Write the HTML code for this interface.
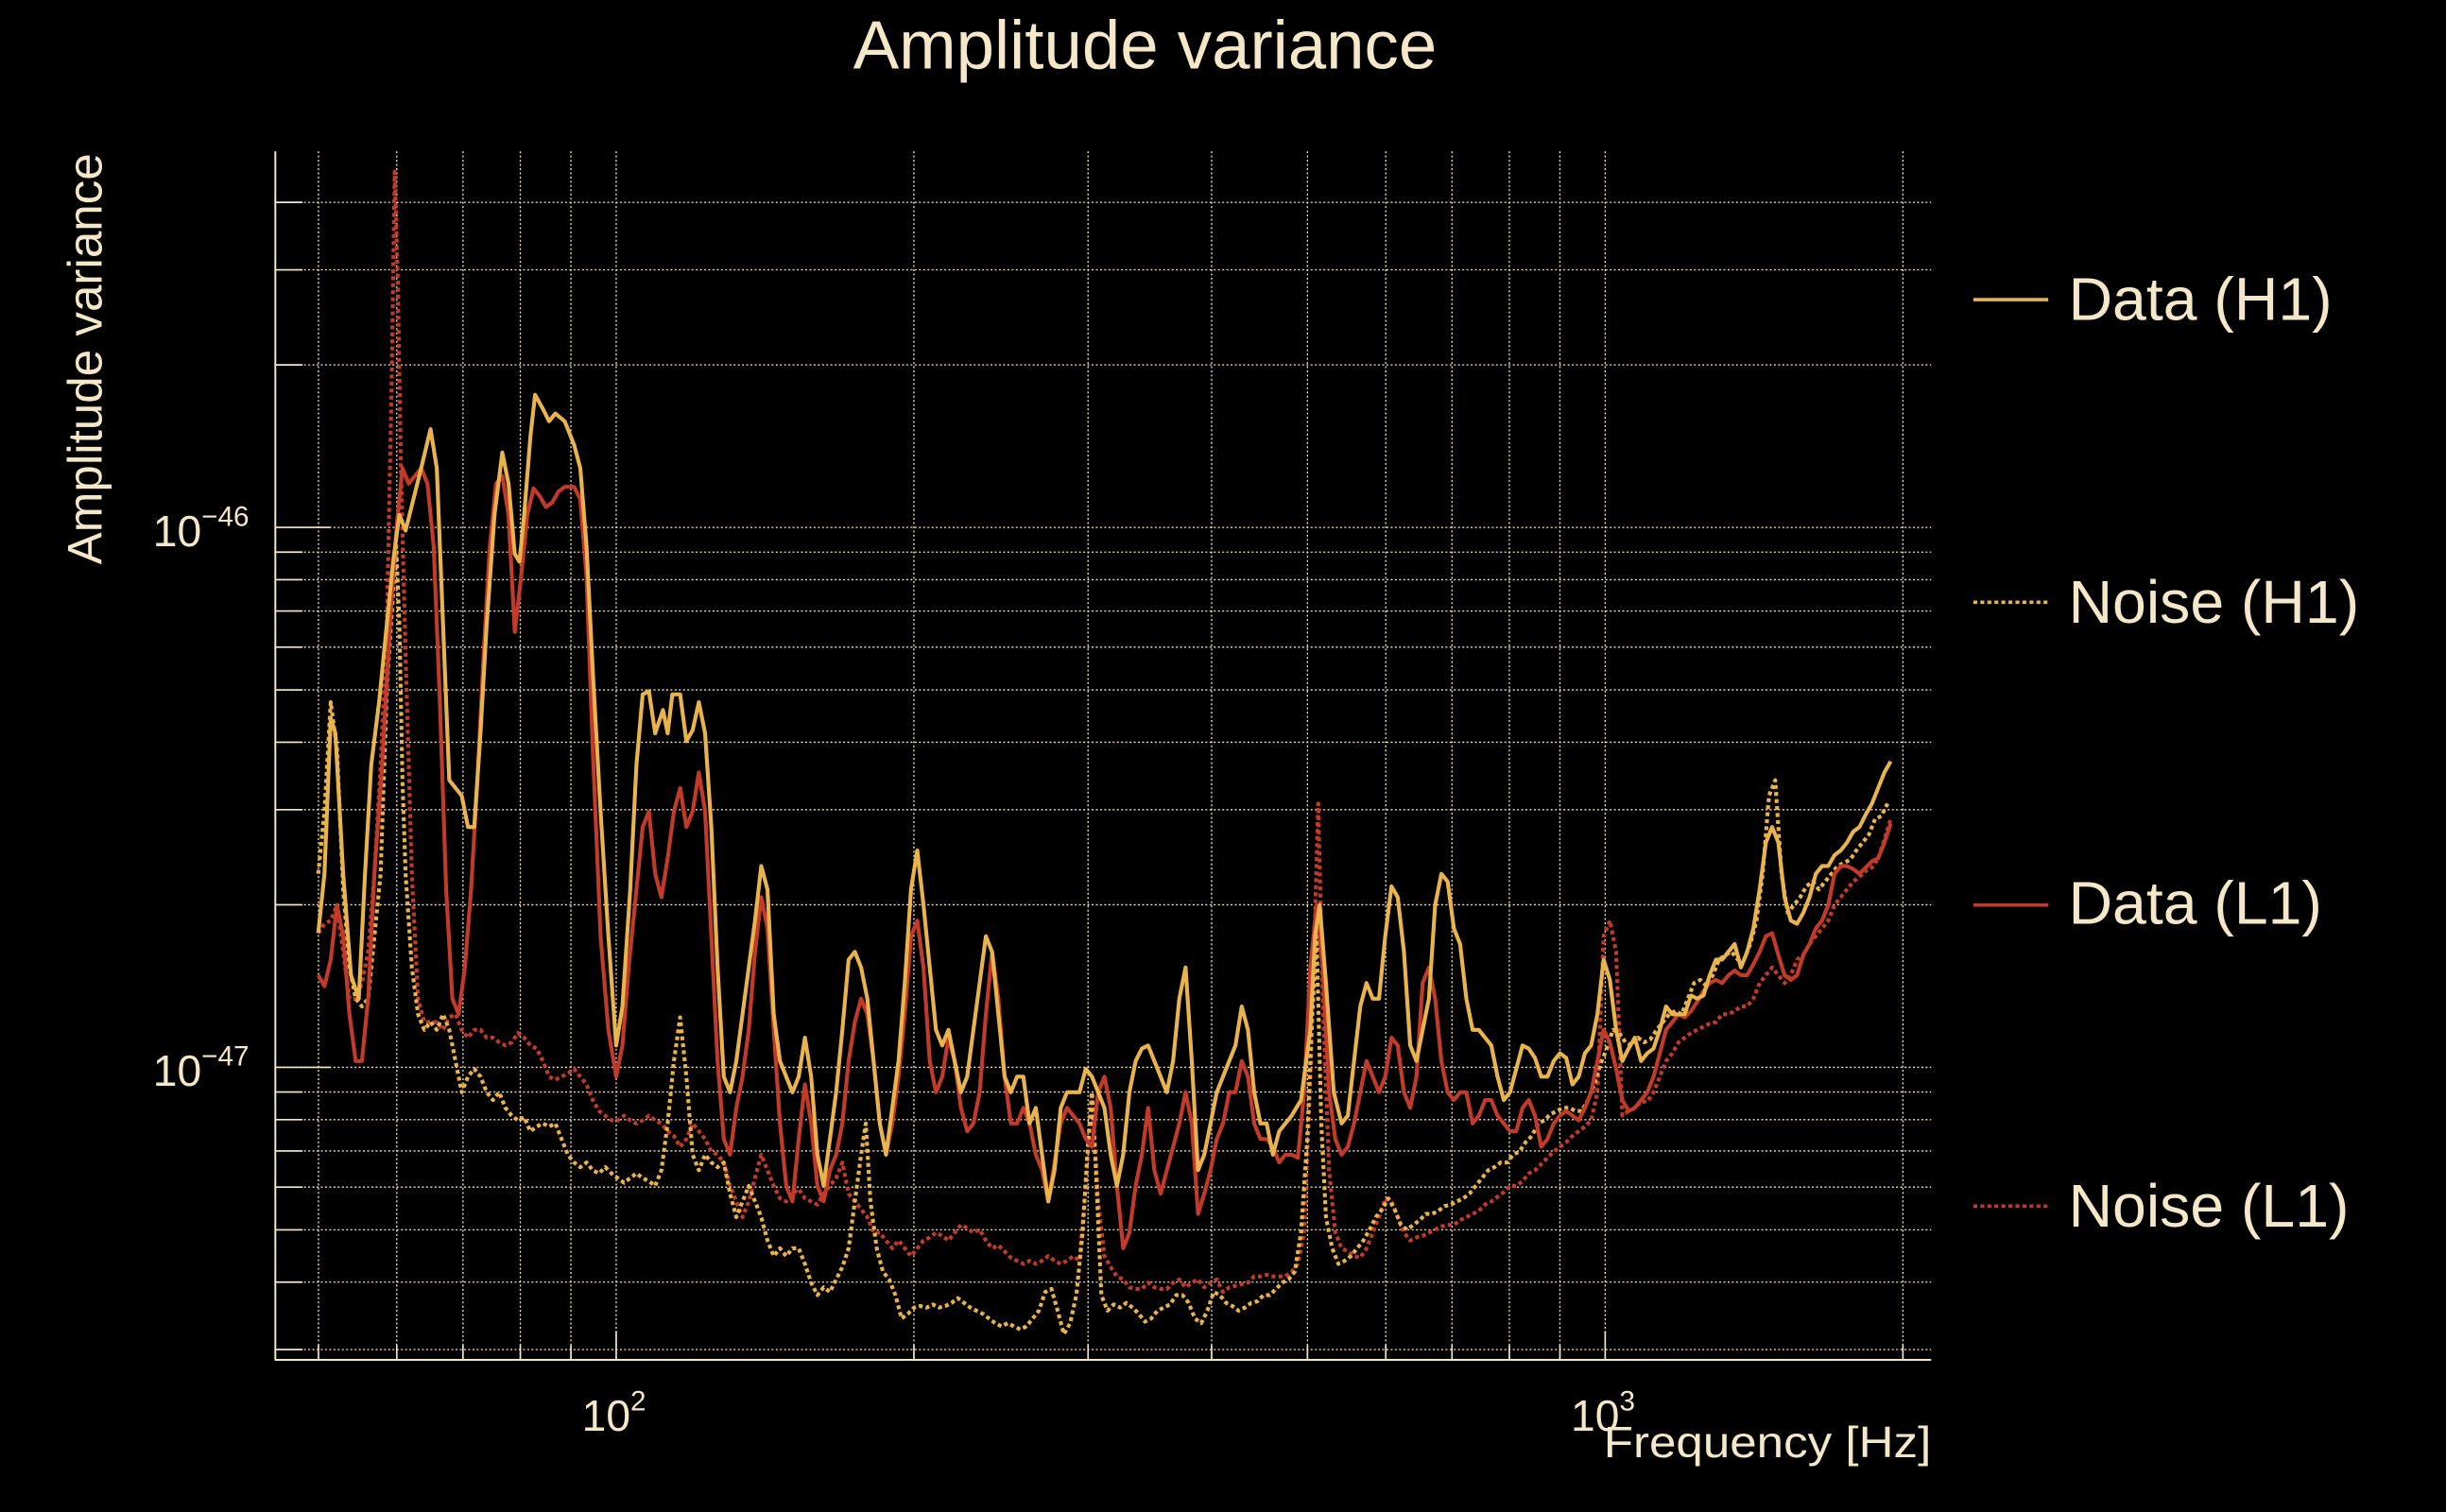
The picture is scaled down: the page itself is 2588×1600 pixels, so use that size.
<!DOCTYPE html>
<html><head><meta charset="utf-8"><style>
html,body{margin:0;padding:0;background:#000;}
svg{display:block}
text{font-family:"Liberation Sans",sans-serif;fill:#f5e8c8}
</style></head><body>
<svg width="2588" height="1600" viewBox="0 0 1568 969" preserveAspectRatio="none" xmlns="http://www.w3.org/2000/svg">
<rect width="1568" height="969" fill="#000"/>
<g id="grid" stroke="#f5e8c8" stroke-width="0.8" stroke-dasharray="1.2,1.5" fill="none"></g>
<g id="ticks" stroke="#f5e8c8" stroke-width="1" fill="none"></g>
<line x1="176.5" y1="97" x2="176.5" y2="871" stroke="#f5e8c8" stroke-width="1.2"/>
<line x1="176" y1="871.5" x2="1238" y2="871.5" stroke="#f5e8c8" stroke-width="1.2"/>
<g id="series" fill="none" stroke-width="2.5" stroke-linejoin="round"></g>
<text x="734" y="44" font-size="44" text-anchor="middle">Amplitude variance</text>
<text transform="translate(65,230) rotate(-90)" font-size="31" text-anchor="middle">Amplitude variance</text>
<text x="98" y="350" font-size="28">10<tspan font-size="18" dy="-13">−46</tspan></text>
<text x="98" y="696" font-size="28">10<tspan font-size="18" dy="-13">−47</tspan></text>
<text x="373" y="917" font-size="28">10<tspan font-size="18" dy="-13">2</tspan></text>
<text x="1007" y="917" font-size="28">10<tspan font-size="18" dy="-13">3</tspan></text>
<text x="1238" y="934" font-size="28" text-anchor="end" textLength="210" lengthAdjust="spacingAndGlyphs">Frequency [Hz]</text>
<line x1="1265" y1="192" x2="1313" y2="192" stroke="#e9b44c" stroke-width="2.2"/>
<line x1="1265" y1="386" x2="1313" y2="386" stroke="#e9b44c" stroke-width="2.2" stroke-dasharray="2.5,2"/>
<line x1="1265" y1="580" x2="1313" y2="580" stroke="#c13a2a" stroke-width="2.2"/>
<line x1="1265" y1="773" x2="1313" y2="773" stroke="#c13a2a" stroke-width="2.2" stroke-dasharray="2.5,2"/>
<text x="1326" y="205" font-size="39">Data (H1)</text>
<text x="1326" y="399" font-size="39">Noise (H1)</text>
<text x="1326" y="592" font-size="39">Data (L1)</text>
<text x="1326" y="786" font-size="39">Noise (L1)</text>
</svg>
<script>
const NS="http://www.w3.org/2000/svg";
const grid=document.getElementById('grid'),ticks=document.getElementById('ticks'),ser=document.getElementById('series');
function L(g,x1,y1,x2,y2){const l=document.createElementNS(NS,'line');l.setAttribute('x1',x1);l.setAttribute('y1',y1);l.setAttribute('x2',x2);l.setAttribute('y2',y2);g.appendChild(l);}
const fx=f=>395+634*Math.log10(f/100), fy=v=>684-346*Math.log10(v/1e-47);
[50,60,70,80,90,100,200,300,400,500,600,700,800,900,1000,2000].forEach(f=>{const x=fx(f);L(grid,x,97,x,871);L(ticks,x,871,x,(f==100||f==1000)?853:862);});
const ys=[];for(let m=3;m<=9;m++)ys.push([m*1e-48,false]);for(let m=1;m<=9;m++)ys.push([m*1e-47,m==1]);for(let m=1;m<=4;m++)ys.push([m*1e-46,m==1]);
ys.forEach(([v,maj])=>{const y=fy(v);L(grid,176,y,1238,y);L(ticks,176,y,maj?212:194,y);});
function P(pts,color,dash){const p=document.createElementNS(NS,'polyline');const a=pts.split(/\),\(/).map(s=>s.replace(/[()]/g,'')).join(' ');p.setAttribute('points',a);p.setAttribute('stroke',color);if(dash)p.setAttribute('stroke-dasharray',dash);ser.appendChild(p);}
const nH="(204,560),(208,520),(212,450),(216,480),(220,570),(224,620),(228,640),(232,645),(236,640),(240,600),(244,560),(248,440),(252,380),(254,350),(256,400),(258,500),(260,560),(264,620),(268,650),(272,660),(276,655),(280,660),(284,650),(288,660),(292,680),(296,700),(300,690),(304,685),(308,690),(312,700),(316,705),(320,700),(324,710),(328,715),(332,718),(336,716),(340,725),(344,722),(348,720),(352,722),(356,720),(360,730),(364,740),(368,745),(372,748),(376,745),(380,750),(384,752),(388,748),(392,752),(396,755),(400,758),(404,755),(408,752),(412,755),(416,757),(420,760),(424,750),(428,720),(432,680),(436,652),(440,690),(444,740),(448,750),(452,740),(456,745),(460,748),(464,745),(468,765),(472,780),(476,770),(480,760),(484,770),(488,780),(492,795),(496,805),(500,800),(504,805),(508,800),(512,800),(516,810),(520,822),(524,830),(528,825),(532,828),(536,820),(540,812),(544,800),(548,770),(552,740),(555,720),(558,770),(562,800),(566,815),(570,820),(574,830),(578,845),(582,842),(586,838),(590,837),(594,838),(598,836),(602,838),(606,837),(610,835),(614,832),(618,835),(622,838),(626,840),(630,842),(634,845),(638,848),(642,850),(646,848),(650,850),(654,852),(658,850),(662,845),(666,840),(670,828),(674,826),(678,840),(682,855),(686,848),(690,830),(694,790),(697,740),(700,700),(703,760),(706,830),(710,840),(714,836),(718,838),(722,835),(726,838),(730,842),(734,847),(738,845),(742,840),(746,838),(750,836),(754,830),(758,830),(762,835),(766,845),(770,848),(774,840),(778,828),(782,830),(786,835),(790,837),(794,840),(798,838),(802,835),(806,834),(810,830),(814,830),(818,826),(822,822),(826,820),(830,815),(834,790),(838,730),(841,655),(844,600),(847,720),(850,780),(854,800),(858,810),(862,808),(866,805),(870,800),(874,795),(878,788),(882,780),(886,775),(890,768),(894,775),(898,785),(902,788),(906,785),(910,782),(914,778),(918,778),(922,776),(926,773),(930,772),(934,770),(938,768),(942,765),(946,760),(950,755),(954,750),(958,748),(962,745),(966,745),(970,740),(974,738),(978,732),(982,728),(986,720),(990,718),(994,714),(998,712),(1002,710),(1006,710),(1010,712),(1014,712),(1018,705),(1022,695),(1026,682),(1030,672),(1034,660),(1038,662),(1042,668),(1046,670),(1050,665),(1054,668),(1058,666),(1062,660),(1066,655),(1070,650),(1074,648),(1078,650),(1082,640),(1086,630),(1090,628),(1094,632),(1098,625),(1102,615),(1106,612),(1110,610),(1114,615),(1118,615),(1122,605),(1126,590),(1130,560),(1134,510),(1138,500),(1142,560),(1146,585),(1150,580),(1154,575),(1158,568),(1162,565),(1166,570),(1170,565),(1174,560),(1178,555),(1182,553),(1186,551),(1190,545),(1194,540),(1198,535),(1202,525),(1206,523),(1210,515)";
const nL="(204,598),(208,592),(212,590),(216,580),(220,610),(224,640),(228,640),(232,630),(236,610),(240,560),(244,490),(248,400),(251,250),(253,110),(255,180),(257,300),(260,420),(264,560),(268,640),(272,655),(276,655),(280,655),(284,660),(288,652),(292,650),(296,660),(300,665),(304,660),(308,660),(312,665),(316,665),(320,668),(324,670),(328,668),(332,662),(336,665),(340,670),(344,672),(348,680),(352,690),(356,692),(360,690),(364,688),(368,685),(372,690),(376,695),(380,705),(384,712),(388,715),(392,718),(396,718),(400,715),(404,718),(408,720),(412,718),(416,715),(420,718),(424,720),(428,725),(432,728),(436,735),(440,730),(444,720),(448,725),(452,730),(456,738),(460,740),(464,745),(468,760),(472,770),(476,780),(480,770),(484,755),(488,740),(492,750),(496,760),(500,768),(504,770),(508,765),(512,762),(516,768),(520,770),(524,772),(528,765),(532,760),(536,755),(540,745),(544,765),(548,770),(552,775),(556,780),(560,790),(564,790),(568,795),(572,800),(576,795),(580,800),(584,805),(588,800),(592,795),(596,793),(600,790),(604,792),(608,795),(612,790),(616,785),(620,787),(624,790),(628,788),(632,795),(636,800),(640,798),(644,802),(648,806),(652,808),(656,810),(660,808),(664,810),(668,808),(672,805),(676,808),(680,810),(684,808),(688,805),(692,808),(696,760),(700,700),(704,770),(708,805),(712,812),(716,818),(720,820),(724,825),(728,826),(732,826),(736,822),(740,825),(744,826),(748,826),(752,822),(756,820),(760,825),(764,822),(768,820),(772,825),(776,822),(780,820),(784,828),(788,825),(792,824),(796,823),(800,822),(804,818),(808,818),(812,817),(816,818),(820,818),(824,818),(828,815),(832,810),(836,790),(840,690),(843,590),(845,515),(848,640),(852,750),(856,790),(860,800),(864,802),(868,805),(872,806),(876,800),(880,790),(884,780),(888,768),(892,770),(896,780),(900,790),(904,795),(908,793),(912,792),(916,790),(920,788),(924,786),(928,785),(932,785),(936,782),(940,780),(944,778),(948,776),(952,772),(956,770),(960,767),(964,764),(968,760),(972,760),(976,757),(980,752),(984,750),(988,746),(992,742),(996,738),(1000,735),(1004,732),(1008,728),(1012,725),(1016,722),(1020,718),(1024,700),(1028,600),(1032,590),(1036,610),(1040,715),(1044,712),(1048,710),(1052,706),(1056,706),(1060,700),(1064,690),(1068,680),(1072,675),(1076,668),(1080,665),(1084,662),(1088,660),(1092,658),(1096,656),(1100,655),(1104,650),(1108,650),(1112,648),(1116,645),(1120,645),(1124,640),(1128,630),(1132,625),(1136,620),(1140,625),(1144,630),(1148,625),(1152,615),(1156,612),(1160,605),(1164,600),(1168,595),(1172,590),(1176,580),(1180,575),(1184,570),(1188,565),(1192,562),(1196,558),(1200,556),(1204,550),(1208,538),(1212,525)";
const dL="(204,625),(208,632),(212,615),(216,580),(220,600),(224,650),(228,680),(232,680),(236,640),(240,560),(245,490),(250,400),(254,340),(258,300),(262,310),(266,305),(270,300),(274,310),(278,350),(282,450),(286,570),(290,640),(294,650),(298,620),(302,570),(306,500),(310,420),(314,350),(318,310),(322,305),(326,330),(330,405),(334,370),(338,330),(342,313),(346,318),(350,325),(354,322),(358,315),(362,312),(368,312),(372,320),(376,370),(380,480),(385,600),(390,660),(395,690),(399,670),(403,620),(408,570),(412,530),(416,520),(420,560),(424,575),(428,550),(432,520),(436,505),(440,530),(444,520),(448,495),(452,520),(456,600),(460,680),(464,730),(468,740),(472,710),(476,690),(480,660),(484,610),(488,575),(492,595),(496,660),(500,720),(504,760),(508,770),(512,730),(516,695),(520,720),(524,760),(528,770),(532,750),(536,740),(540,720),(544,680),(548,655),(552,640),(556,650),(560,680),(564,720),(568,740),(572,720),(576,690),(580,650),(584,600),(588,590),(592,620),(596,680),(600,700),(604,690),(608,665),(612,680),(616,710),(620,725),(624,720),(628,700),(632,650),(636,610),(640,640),(644,690),(648,720),(652,720),(656,710),(660,720),(664,740),(668,750),(672,770),(676,745),(680,720),(684,710),(688,715),(692,720),(696,730),(700,735),(704,700),(708,690),(712,710),(716,760),(720,800),(724,790),(728,760),(732,740),(736,710),(740,750),(744,765),(748,750),(752,735),(756,720),(760,700),(764,720),(768,778),(772,765),(776,750),(780,730),(784,720),(788,700),(792,700),(796,680),(800,690),(804,720),(808,730),(812,730),(816,735),(820,745),(824,740),(828,740),(832,742),(836,700),(840,620),(844,580),(848,620),(852,700),(856,730),(860,740),(864,735),(868,720),(872,700),(876,680),(880,690),(884,700),(888,690),(892,665),(896,670),(900,700),(904,710),(908,690),(912,630),(916,620),(920,640),(924,680),(928,700),(932,705),(936,700),(940,700),(944,720),(948,715),(952,705),(956,705),(960,715),(964,720),(968,725),(972,725),(976,710),(980,705),(984,715),(988,735),(992,730),(996,720),(1000,715),(1004,712),(1008,715),(1012,718),(1016,710),(1020,700),(1024,680),(1028,660),(1032,668),(1036,685),(1040,705),(1044,712),(1048,710),(1052,705),(1056,700),(1060,690),(1064,675),(1068,660),(1072,655),(1076,650),(1080,652),(1084,648),(1088,642),(1092,635),(1096,630),(1100,628),(1104,630),(1108,625),(1112,622),(1116,625),(1120,625),(1124,618),(1128,610),(1132,600),(1136,598),(1140,612),(1144,625),(1148,628),(1152,625),(1156,612),(1160,605),(1164,595),(1168,590),(1172,580),(1176,560),(1180,555),(1184,555),(1188,557),(1192,560),(1196,556),(1200,552),(1204,550),(1208,540),(1212,528)";
const dH="(204,598),(208,560),(212,460),(215,470),(220,560),(225,625),(230,640),(234,560),(238,490),(243,450),(248,400),(252,360),(256,330),(260,340),(265,320),(270,300),(276,275),(280,300),(284,400),(288,500),(292,505),(296,510),(300,530),(304,530),(308,470),(312,400),(317,330),(322,290),(326,310),(330,355),(333,360),(336,330),(340,280),(343,253),(348,262),(352,270),(356,265),(362,270),(368,285),(372,300),(376,350),(380,430),(385,520),(390,600),(395,670),(399,645),(404,570),(408,490),(412,445),(416,443),(420,470),(425,455),(428,470),(431,445),(436,445),(440,475),(444,468),(448,450),(452,470),(456,530),(460,620),(464,690),(468,700),(472,680),(476,650),(480,620),(484,590),(488,555),(492,570),(496,650),(500,680),(504,690),(508,700),(512,690),(516,665),(520,690),(524,740),(528,760),(532,730),(536,700),(540,660),(544,615),(548,610),(552,620),(556,640),(560,680),(564,720),(568,740),(572,710),(576,680),(580,630),(584,570),(588,545),(592,580),(596,620),(600,660),(604,670),(608,660),(612,680),(616,700),(620,690),(624,660),(628,630),(632,600),(636,610),(640,650),(644,690),(648,700),(652,690),(656,690),(660,720),(664,710),(668,740),(672,770),(676,750),(680,710),(684,700),(688,700),(692,700),(696,685),(700,690),(704,700),(708,710),(712,740),(716,760),(720,740),(724,700),(728,680),(732,672),(736,670),(740,680),(744,690),(748,700),(752,680),(756,640),(760,620),(764,680),(768,750),(772,740),(776,720),(780,700),(784,690),(788,680),(792,670),(796,645),(800,660),(804,700),(808,720),(812,720),(816,740),(820,725),(824,720),(828,715),(834,705),(840,660),(843,600),(846,580),(850,630),(855,700),(860,720),(864,715),(868,680),(872,645),(876,630),(880,640),(884,640),(888,600),(892,568),(896,575),(900,610),(904,670),(908,680),(912,660),(916,640),(920,580),(924,560),(928,565),(932,595),(936,605),(940,640),(944,660),(948,660),(952,665),(956,670),(960,690),(964,705),(968,700),(972,685),(976,670),(980,672),(984,678),(988,690),(992,690),(996,680),(1000,675),(1004,678),(1008,695),(1012,690),(1016,675),(1020,670),(1024,650),(1028,615),(1032,628),(1036,660),(1040,680),(1044,672),(1048,665),(1052,680),(1056,675),(1060,672),(1064,660),(1068,645),(1072,650),(1076,650),(1080,650),(1084,638),(1088,640),(1092,638),(1096,625),(1100,615),(1104,615),(1108,610),(1112,605),(1116,620),(1120,610),(1124,595),(1128,570),(1132,540),(1136,530),(1140,540),(1144,575),(1148,590),(1152,592),(1156,585),(1160,575),(1164,560),(1168,555),(1172,555),(1176,548),(1180,545),(1184,540),(1188,533),(1192,530),(1196,522),(1200,515),(1204,505),(1208,495),(1212,488)";
P(nL,'#c13a2a','2.5,2');P(nH,'#e9b44c','2.5,2');P(dL,'#c13a2a');P(dH,'#e9b44c');
</script>
</body></html>
